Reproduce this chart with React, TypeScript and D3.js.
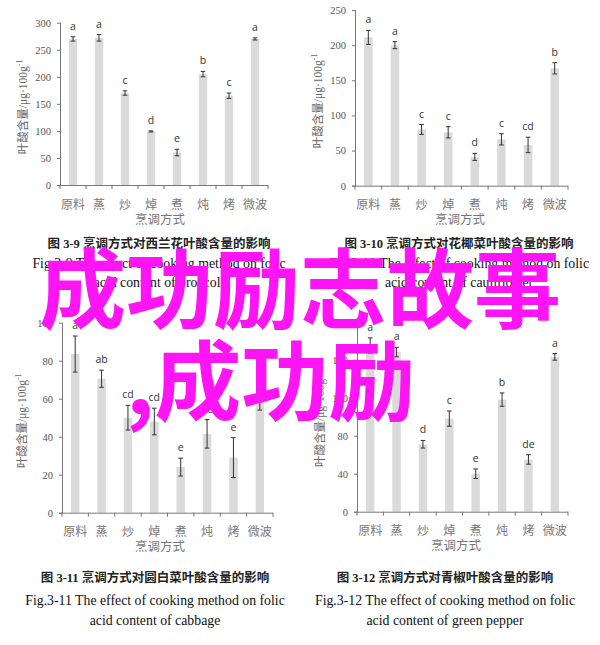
import * as d3 from "d3";
import { useEffect, useRef } from "react";

const categories = ["原料", "蒸", "炒", "焯", "煮", "炖", "烤", "微波"];

const broccoliValues = [270, 272, 170, 99, 60, 205, 165, 270];
const broccoliErrors = [4, 6, 4, 1, 6, 5, 5, 2];
const broccoliLetters = ["a", "a", "c", "d", "e", "b", "c", "a"];
const broccoliTicks = [0, 50, 100, 150, 200, 250, 300];

const cauliflowerValues = [211, 200, 80, 76, 41, 66, 58, 167];
const cauliflowerErrors = [10, 5, 7, 8, 5, 8, 11, 8];
const cauliflowerLetters = ["a", "a", "c", "c", "d", "c", "cd", "b"];
const cauliflowerTicks = [0, 50, 100, 150, 200, 250];

const cabbageValues = [83.5, 70.5, 50, 48, 24, 41.5, 29, 61];
const cabbageErrors = [9.5, 4.5, 6.5, 7, 4.7, 7.5, 10.5, 7];
const cabbageLetters = ["a", "ab", "cd", "cd", "e", "de", "e", "b"];
const cabbageTicks = [0, 20, 40, 60, 80, 100];

const pepperValues = [175, 168, 71, 98, 40, 118, 55, 163];
const pepperErrors = [8, 5, 4, 8, 5, 7, 5, 3.5];
const pepperLetters = ["a", "a", "d", "c", "e", "b", "de", "a"];
const pepperTicks = [0, 40, 80, 120, 160, 200];

const xTitle = "烹调方式";
const overlayLine1 = "成功励志故事";
const overlayLine2 = ",成功励";

const SERIF = "'Liberation Serif', 'Times New Roman', serif";
const CJK = "'Noto Sans CJK SC', 'Noto Sans', sans-serif";
const CAP = "'Liberation Serif', 'Noto Sans CJK SC', serif";

interface PanelProps {
  values: number[];
  errors: number[];
  letters: string[];
  ticks: number[];
  left: number;
  right: number;
  y0: number;
  yTop: number;
  labelX: number;
  titleX: number;
  capX: number;
  capY: number[];
  captionCn: string;
  captionEn1: string;
  captionEn2: string;
}

function Panel({
  values,
  errors,
  letters,
  ticks,
  left,
  right,
  y0,
  yTop,
  labelX,
  titleX,
  capX,
  capY,
  captionCn,
  captionEn1,
  captionEn2,
}: PanelProps) {
  const gy = useRef<SVGGElement>(null);
  const x = d3.scaleBand(categories, [left, right]);
  const y = d3.scaleLinear([0, ticks[ticks.length - 1]], [y0, yTop]);
  const bw = x.step() * 0.32;

  useEffect(() => {
    const g = d3.select(gy.current!);
    g.call(d3.axisLeft(y).tickValues(ticks).tickSize(3).tickPadding(6) as any);
    g.select(".domain").attr("stroke", "#777").attr("d", `M-3,${y(0) + 0.5}H0.5V${yTop}`);
    g.selectAll(".tick line").attr("stroke", "#777");
    g.selectAll(".tick text")
      .attr("font-family", SERIF)
      .attr("font-size", 10.5)
      .attr("fill", "#555");
  }, [y, ticks]);

  const bounds = d3.range(categories.length + 1).map((i) => left + i * x.step());
  const midY = (y0 + yTop) / 2;

  return (
    <g>
      {values.map((v, i) => (
        <rect
          key={i}
          x={x(categories[i])! + (x.step() - bw) / 2}
          y={y(v)}
          width={bw}
          height={y0 - y(v)}
          fill="#dadada"
        />
      ))}
      {values.map((v, i) => {
        const cx = x(categories[i])! + x.step() / 2;
        const t = y(v + errors[i]);
        const b = y(v - errors[i]);
        return (
          <g key={i} stroke="#333" strokeWidth={1}>
            <line x1={cx} x2={cx} y1={t} y2={b} />
            <line x1={cx - 2.3} x2={cx + 2.3} y1={t} y2={t} />
            <line x1={cx - 2.3} x2={cx + 2.3} y1={b} y2={b} />
          </g>
        );
      })}
      {letters.map((l, i) => (
        <text
          key={i}
          x={x(categories[i])! + x.step() / 2}
          y={y(values[i] + errors[i]) - 7}
          textAnchor="middle"
          fontFamily="'Open Sans', 'DejaVu Sans', sans-serif"
          fontSize={10.5}
          fill="#333"
        >
          {l}
        </text>
      ))}
      <g ref={gy} transform={`translate(${left},0)`} />
      <line x1={left} x2={right} y1={y0 + 0.5} y2={y0 + 0.5} stroke="#777" />
      {bounds.map((bx, i) => (
        <line key={i} x1={bx} x2={bx} y1={y0} y2={y0 + 4} stroke="#777" />
      ))}
      {categories.map((c) => (
        <text
          key={c}
          x={x(c)! + x.step() / 2}
          y={y0 + 18}
          textAnchor="middle"
          dominantBaseline="central"
          fontFamily={CJK}
          fontSize={12}
          fill="#777"
        >
          {c}
        </text>
      ))}
      <text
        x={titleX}
        y={y0 + 33}
        textAnchor="middle"
        dominantBaseline="central"
        fontFamily={CJK}
        fontSize={12.5}
        fill="#777"
      >
        {xTitle}
      </text>
      <text
        transform={`translate(${labelX},${midY + 3}) rotate(-90)`}
        textAnchor="middle"
        dominantBaseline="central"
        fontFamily={CAP}
        fontSize={11.5}
        fill="#666"
      >
        叶酸含量/μg·100g
        <tspan fontSize={8} dy={-4}>
          -1
        </tspan>
      </text>
      <text
        x={capX}
        y={capY[0]}
        textAnchor="middle"
        dominantBaseline="central"
        fontFamily={CAP}
        fontWeight={700}
        fontSize={12.5}
        fill="#222"
      >
        {captionCn}
      </text>
      <text x={capX} y={capY[1]} textAnchor="middle" dominantBaseline="central" fontFamily={SERIF} fontSize={13.8} fill="#111">
        {captionEn1}
      </text>
      <text x={capX} y={capY[2]} textAnchor="middle" dominantBaseline="central" fontFamily={SERIF} fontSize={13.8} fill="#111">
        {captionEn2}
      </text>
    </g>
  );
}

export default function App() {
  return (
    <svg
      width={600}
      height={645}
      style={{ position: "absolute", left: 0, top: 0, background: "#fff" }}
    >
      <Panel
        values={broccoliValues}
        errors={broccoliErrors}
        letters={broccoliLetters}
        ticks={broccoliTicks}
        left={60}
        right={268}
        y0={185}
        yTop={22.7}
        labelX={23}
        titleX={160}
        capX={159}
        capY={[244, 263, 282]}
        captionCn="图 3-9  烹调方式对西兰花叶酸含量的影响"
        captionEn1="Fig.3-9 The effect of cooking method on folic"
        captionEn2="acid content of broccoli"
      />
      <Panel
        values={cauliflowerValues}
        errors={cauliflowerErrors}
        letters={cauliflowerLetters}
        ticks={cauliflowerTicks}
        left={355}
        right={568}
        y0={185.7}
        yTop={10}
        labelX={318}
        titleX={460}
        capX={459}
        capY={[244, 263, 282]}
        captionCn="图 3-10  烹调方式对花椰菜叶酸含量的影响"
        captionEn1="Fig.3-10 The effect of cooking method on folic"
        captionEn2="acid content of cauliflower"
      />
      <Panel
        values={cabbageValues}
        errors={cabbageErrors}
        letters={cabbageLetters}
        ticks={cabbageTicks}
        left={62}
        right={273}
        y0={512.7}
        yTop={322.7}
        labelX={22}
        titleX={160}
        capX={155}
        capY={[578, 600, 620]}
        captionCn="图 3-11  烹调方式对圆白菜叶酸含量的影响"
        captionEn1="Fig.3-11 The effect of cooking method on folic"
        captionEn2="acid content of cabbage"
      />
      <Panel
        values={pepperValues}
        errors={pepperErrors}
        letters={pepperLetters}
        ticks={pepperTicks}
        left={357}
        right={568}
        y0={511.7}
        yTop={321.7}
        labelX={320}
        titleX={456}
        capX={445}
        capY={[578, 600, 620]}
        captionCn="图 3-12  烹调方式对青椒叶酸含量的影响"
        captionEn1="Fig.3-12 The effect of cooking method on folic"
        captionEn2="acid content of green pepper"
      />
      <g fontFamily={CJK} fontWeight={700} fontSize={87} fill="#ff14f5">
        <text x={39} y={322}>
          {overlayLine1}
        </text>
        <text x={126} y={414}>
          {overlayLine2}
        </text>
      </g>
    </svg>
  );
}
